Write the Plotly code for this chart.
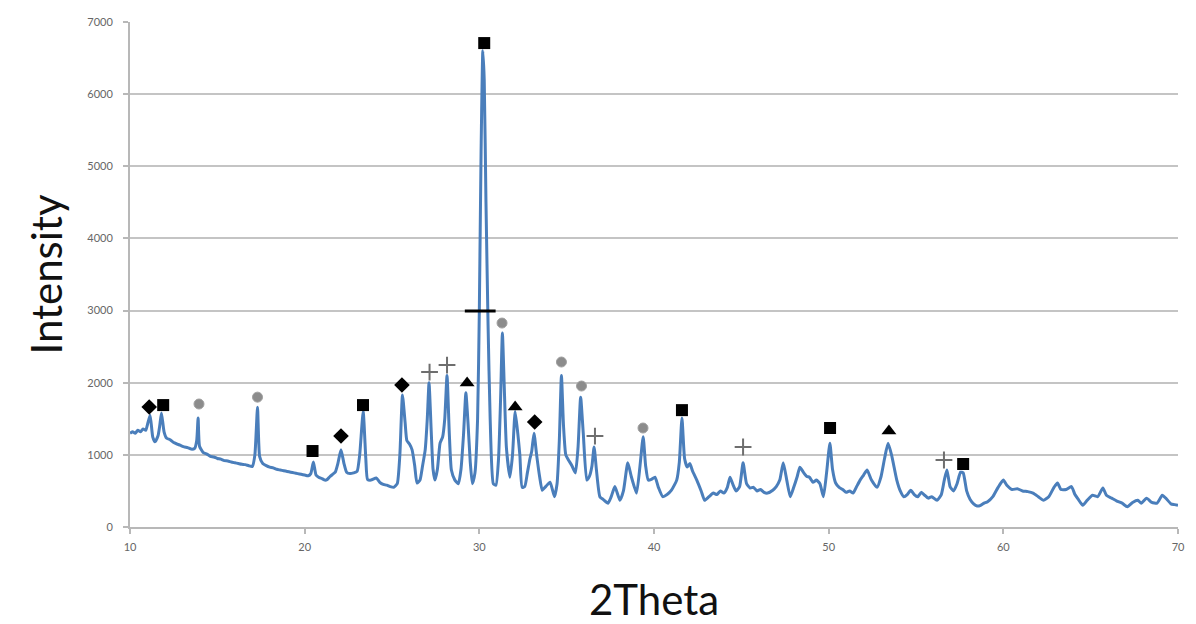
import plotly.graph_objects as go

# ---- XRD pattern (2Theta, Intensity) ----
two_theta = [
    10.0, 10.15, 10.3, 10.45, 10.6, 10.75, 10.9, 11.0, 11.15, 11.3, 11.43, 11.6, 11.7, 11.8, 11.95, 12.1,
    12.3, 12.5, 12.7, 12.9, 13.1, 13.3, 13.5, 13.7, 13.82, 13.9, 13.98, 14.2, 14.4, 14.6, 14.8, 15.0,
    15.2, 15.4, 15.6, 15.8, 16.0, 16.2, 16.4, 16.6, 16.8, 17.0, 17.15, 17.3, 17.42, 17.6, 17.8, 18.0,
    18.2, 18.4, 18.6, 18.8, 19.0, 19.2, 19.4, 19.6, 19.8, 20.0, 20.2, 20.35, 20.5, 20.65, 20.8, 21.0,
    21.15, 21.3, 21.45, 21.6, 21.75, 21.9, 22.08, 22.25, 22.4, 22.6, 22.8, 23.0, 23.15, 23.35, 23.5, 23.6,
    23.8, 24.1, 24.3, 24.5, 24.7, 24.9, 25.1, 25.3, 25.45, 25.6, 25.75, 25.85, 26.0, 26.15, 26.3, 26.43,
    26.6, 26.75, 26.9, 27.02, 27.12, 27.25, 27.35, 27.46, 27.6, 27.75, 27.9, 28.02, 28.15, 28.28, 28.4, 28.6,
    28.8, 28.95, 29.1, 29.23, 29.35, 29.48, 29.6, 29.75, 29.9, 30.0, 30.1, 30.2, 30.28, 30.38, 30.5, 30.62,
    30.8, 30.95, 31.1, 31.22, 31.32, 31.42, 31.55, 31.75, 31.9, 32.05, 32.2, 32.32, 32.45, 32.6, 32.75, 32.9,
    33.0, 33.13, 33.28, 33.45, 33.6, 33.8, 34.05, 34.3, 34.45, 34.58, 34.7, 34.82, 34.95, 35.1, 35.3, 35.5,
    35.65, 35.8, 35.95, 36.15, 36.3, 36.45, 36.57, 36.7, 36.9, 37.1, 37.37, 37.55, 37.76, 38.05, 38.25, 38.5,
    38.7, 39.0, 39.2, 39.38, 39.52, 39.67, 39.85, 40.06, 40.25, 40.5, 40.75, 41.0, 41.3, 41.45, 41.6, 41.75,
    41.9, 42.05, 42.2, 42.45, 42.7, 42.9, 43.15, 43.4, 43.6, 43.8, 44.0, 44.2, 44.35, 44.5, 44.7, 44.9,
    45.1, 45.3, 45.5, 45.7, 45.9, 46.1, 46.3, 46.5, 46.8, 47.0, 47.2, 47.4, 47.6, 47.8, 48.0, 48.2,
    48.35, 48.55, 48.75, 48.9, 49.1, 49.3, 49.5, 49.7, 49.88, 50.07, 50.22, 50.4, 50.6, 50.8, 51.0, 51.2,
    51.4, 51.6, 51.8, 52.0, 52.2, 52.45, 52.77, 53.0, 53.2, 53.4, 53.6, 53.9, 54.1, 54.3, 54.5, 54.7,
    54.9, 55.1, 55.3, 55.5, 55.7, 55.9, 56.2, 56.45, 56.62, 56.77, 56.95, 57.15, 57.35, 57.55, 57.7, 57.9,
    58.1, 58.3, 58.5, 58.7, 58.9, 59.1, 59.4, 59.7, 60.0, 60.2, 60.5, 60.8, 61.1, 61.4, 61.7, 62.0,
    62.3, 62.6, 62.9, 63.1, 63.3, 63.6, 63.9, 64.1, 64.3, 64.55, 64.8, 65.1, 65.4, 65.7, 65.9, 66.2,
    66.5, 66.8, 67.1, 67.4, 67.7, 67.9, 68.2, 68.5, 68.8, 69.1, 69.3, 69.6, 69.8, 70.0,
]
intensity = [
    1300, 1320, 1300, 1340, 1320, 1360, 1340, 1420, 1550, 1250, 1180, 1260, 1400, 1580, 1320, 1230,
    1210, 1170, 1150, 1130, 1110, 1100, 1080, 1090, 1200, 1510, 1120, 1030, 1010, 980, 970, 950,
    940, 920, 915, 900, 890, 880, 870, 865, 850, 840, 1000, 1660, 980, 880, 850, 830,
    820, 800, 790, 780, 770, 760, 750, 740, 730, 720, 710, 740, 900, 720, 690, 670,
    650, 660, 700, 730, 760, 880, 1070, 880, 760, 740, 750, 770, 1000, 1600, 950, 660,
    650, 680, 620, 590, 580, 560, 550, 600, 1000, 1830, 1450, 1200, 1150, 1070, 850, 610,
    650, 850, 1070, 1500, 2000, 1300, 800, 650, 800, 1160, 1250, 1500, 2100, 1300, 790, 650,
    600, 800, 1300, 1860, 1450, 900, 600, 750, 1500, 3000, 5200, 6600, 6200, 4500, 2800, 1500,
    600, 580, 950, 1800, 2690, 2000, 1100, 690, 1000, 1600, 1300, 1000, 550, 560, 750, 950,
    1050, 1300, 1000, 700, 510, 560, 620, 420, 600, 1200, 2100, 1400, 1000, 930, 850, 750,
    1100, 1800, 1300, 650, 700, 850, 1110, 800, 420, 380, 330, 420, 560, 370, 500, 890,
    700, 470, 850, 1250, 850, 650, 660, 690, 550, 420, 450, 510, 650, 900, 1510, 950,
    830, 880, 780, 650, 500, 370, 420, 470, 450, 500, 470, 550, 690, 600, 500, 560,
    890, 600, 540, 550, 500, 520, 480, 470, 510, 560, 650, 890, 650, 420, 550, 700,
    830, 760, 700, 690, 620, 650, 600, 420, 750, 1160, 800, 610, 550, 520, 480, 500,
    470, 560, 650, 720, 790, 650, 550, 700, 950, 1160, 1000, 650, 500, 420, 450, 510,
    450, 420, 480, 440, 400, 420, 370, 450, 650, 790, 560, 500, 600, 760, 750, 500,
    380, 320, 290, 300, 330, 350, 420, 550, 650, 580, 520, 530, 500, 490, 470, 420,
    370, 420, 550, 610, 520, 520, 560, 450, 380, 300, 370, 440, 420, 540, 440, 400,
    360, 330, 280, 340, 370, 330, 400, 340, 330, 440, 400, 320, 310, 300,
]

# ---- phase markers placed above the peaks ----
diamond_x = [11.1, 22.08, 25.57, 33.17]
diamond_y = [1663, 1261, 1968, 1455]
square_x = [11.9, 20.45, 23.34, 30.28, 41.6, 50.08, 57.7]
square_y = [1690, 1053, 1690, 6708, 1620, 1372, 873]
star_x = [13.95, 17.3, 31.3, 34.7, 35.85, 39.37]
star_y = [1705, 1800, 2827, 2287, 1954, 1372]
plus_x = [27.15, 28.15, 36.62, 45.1, 56.6]
plus_y = [2148, 2245, 1261, 1109, 929]
triangle_x = [29.3, 32.05, 53.45]
triangle_y = [1996, 1663, 1331]
dash_x = [30.05]
dash_y = [2994]

fig = go.Figure()
fig.add_trace(go.Scatter(
    x=two_theta, y=intensity, mode="lines",
    line=dict(color="#4a7ebb", width=3, shape="spline", smoothing=0.5),
    showlegend=False, hoverinfo="x+y",
))

def add_marks(xs, ys, symbol, color, size, lw=0, lc=None):
    fig.add_trace(go.Scatter(
        x=xs, y=ys, mode="markers", showlegend=False,
        marker=dict(symbol=symbol, color=color, size=size,
                    line=dict(width=lw, color=lc if lc else color)),
    ))

add_marks(diamond_x, diamond_y, "diamond", "#000000", 12)
add_marks(square_x, square_y, "square", "#000000", 12)
add_marks(star_x, star_y, "circle", "#8c8c8c", 10, 1, "#a0a0a0")
add_marks(plus_x, plus_y, "cross-thin-open", "#6e6e6e", 12, 2, "#6e6e6e")
add_marks(triangle_x, triangle_y, "triangle-up", "#000000", 13)
add_marks(dash_x, dash_y, "line-ew-open", "#000000", 22, 3, "#000000")

# page body has an 8px margin, so the figure is offset by it
fig.update_layout(
    width=1188, height=616,
    margin=dict(l=122, r=18, t=14, b=97),
    paper_bgcolor="white", plot_bgcolor="white",
    font=dict(family="Lato, Open Sans, sans-serif", color="#595959"),
)
fig.update_xaxes(
    range=[10, 70], dtick=10, tick0=10, automargin=False,
    showgrid=False, zeroline=False,
    showline=True, linecolor="#b8b8b8", linewidth=2,
    ticks="outside", ticklen=5, tickcolor="#b8b8b8", tickwidth=2,
    tickfont=dict(size=11, color="#666666"), ticklabelstandoff=4,
    title=dict(text="2Theta", font=dict(size=42, color="#111111"), standoff=42),
)
fig.update_yaxes(
    range=[0, 7000], dtick=1000, automargin=False,
    showgrid=True, gridcolor="#c4c4c4", gridwidth=2, zeroline=False,
    showline=True, linecolor="#b8b8b8", linewidth=2,
    ticks="outside", ticklen=5, tickcolor="#b8b8b8", tickwidth=2,
    tickfont=dict(size=11, color="#666666"), ticklabelstandoff=8,
    title=dict(text="Intensity", font=dict(size=42, color="#111111"), standoff=12),
)

fig.write_html("out.html")
